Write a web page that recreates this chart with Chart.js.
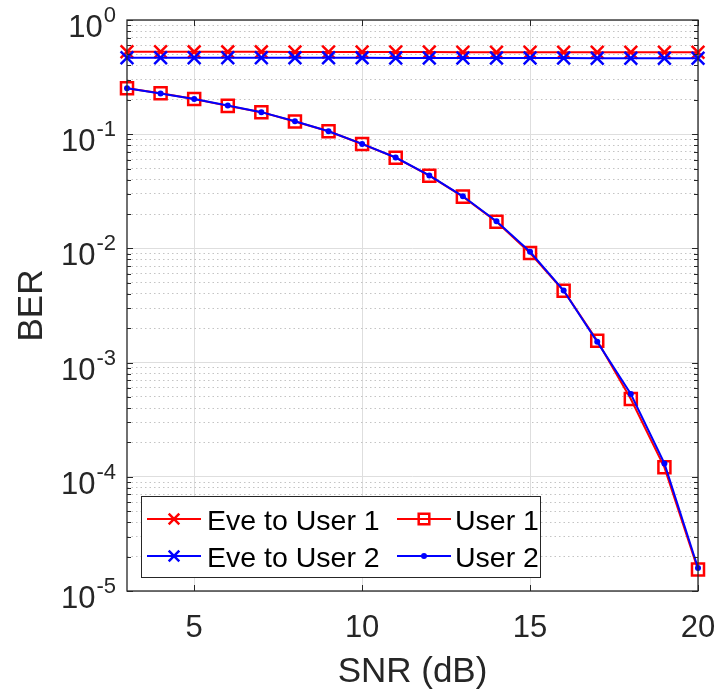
<!DOCTYPE html>
<html>
<head>
<meta charset="utf-8">
<title>BER vs SNR</title>
<script src="https://cdn.jsdelivr.net/npm/chart.js@4.4.0/dist/chart.umd.min.js"></script>
<style>
    html, body { margin: 0; padding: 0; background: #fff; }
    #wrap { width: 720px; height: 693px; position: relative; }
</style>
</head>
<body>
<div id="wrap"><canvas id="ber-chart"></canvas></div>
<script>
const snrDb = [3, 4, 5, 6, 7, 8, 9, 10, 11, 12, 13, 14, 15, 16, 17, 18, 19, 20];

const eveToUser1 = [0.527, 0.527, 0.526, 0.526, 0.526, 0.525, 0.525, 0.524, 0.524, 0.524,
                    0.523, 0.523, 0.523, 0.522, 0.522, 0.522, 0.521, 0.521];
const user1 = [0.252, 0.228, 0.203, 0.177, 0.156, 0.129, 0.106, 0.0820, 0.0623, 0.0433,
               0.0284, 0.0171, 0.00912, 0.00426, 0.00155, 0.000480, 0.000121, 0.0000154];
const eveToUser2 = [0.468, 0.468, 0.467, 0.467, 0.467, 0.466, 0.466, 0.466, 0.465, 0.465,
                    0.465, 0.464, 0.464, 0.464, 0.463, 0.463, 0.462, 0.462];
const user2 = [0.252, 0.227, 0.203, 0.178, 0.156, 0.130, 0.106, 0.0822, 0.0625, 0.0435,
               0.0286, 0.0173, 0.00935, 0.00428, 0.00152, 0.000531, 0.000131, 0.0000159];

const xTicks = [5, 10, 15, 20];
const yDecades = [-5, -4, -3, -2, -1, 0];

const RED = '#ff0000';
const BLUE = '#0000ff';
const AXIS = '#262626';
const FONT = '"Liberation Sans", Arial, Helvetica, sans-serif';

// 1..9 x 10^e for every decade, plus the top decade
const yTickValues = [];
yDecades.forEach(e => {
    if (e === 0) { yTickValues.push(1); return; }
    for (let m = 1; m <= 9; m++) yTickValues.push(m * Math.pow(10, e));
});

function isDecade(v) {
    if (!v) return false;
    const l = Math.log10(v);
    return Math.abs(l - Math.round(l)) < 1e-9;
}

function toPoints(values) {
    return snrDb.map((s, i) => ({ x: s, y: values[i] }));
}

const datasets = [
    {
        label: 'Eve to User 1',
        data: toPoints(eveToUser1),
        borderColor: RED,
        borderWidth: 2,
        pointStyle: 'crossRot',
        pointRadius: 9,
        pointBorderWidth: 2.5,
        pointBorderColor: RED,
        pointBackgroundColor: RED,
        order: 3
    },
    {
        label: 'User 1',
        data: toPoints(user1),
        borderColor: RED,
        borderWidth: 2,
        pointStyle: 'rect',
        pointRadius: 8.5,
        pointBorderWidth: 2.5,
        pointBorderColor: RED,
        pointBackgroundColor: 'rgba(0,0,0,0)',
        order: 2
    },
    {
        label: 'Eve to User 2',
        data: toPoints(eveToUser2),
        borderColor: BLUE,
        borderWidth: 2,
        pointStyle: 'crossRot',
        pointRadius: 9,
        pointBorderWidth: 2.5,
        pointBorderColor: BLUE,
        pointBackgroundColor: BLUE,
        order: 1
    },
    {
        label: 'User 2',
        data: toPoints(user2),
        borderColor: BLUE,
        borderWidth: 2,
        pointStyle: 'circle',
        pointRadius: 3,
        pointBorderWidth: 0,
        pointBorderColor: BLUE,
        pointBackgroundColor: BLUE,
        order: 0
    }
];

// frame, inward ticks, tick labels, axis titles and the boxed legend
const axisDecor = {
    id: 'axisDecor',
    afterDraw(chart) {
        const { ctx, chartArea: a, scales: { x, y } } = chart;
        ctx.save();

        // inward tick marks on all four sides
        ctx.strokeStyle = AXIS;
        ctx.lineWidth = 1;
        ctx.beginPath();
        yTickValues.forEach(v => {
            const py = Math.round(y.getPixelForValue(v)) + 0.5;
            const len = isDecade(v) ? 6 : 4;
            ctx.moveTo(a.left, py); ctx.lineTo(a.left + len, py);
            ctx.moveTo(a.right, py); ctx.lineTo(a.right - len, py);
        });
        xTicks.forEach(v => {
            const px = Math.round(x.getPixelForValue(v)) + 0.5;
            ctx.moveTo(px, a.bottom); ctx.lineTo(px, a.bottom - 6);
            ctx.moveTo(px, a.top); ctx.lineTo(px, a.top + 6);
        });
        ctx.stroke();

        // box
        ctx.lineWidth = 1.3;
        ctx.strokeRect(a.left, a.top, a.right - a.left, a.bottom - a.top);

        // y tick labels as 10 with a raised exponent
        ctx.fillStyle = AXIS;
        ctx.textBaseline = 'alphabetic';
        const labelRight = 116;
        yDecades.forEach(e => {
            const py = y.getPixelForValue(Math.pow(10, e));
            const expText = String(e);
            ctx.font = '22px ' + FONT;
            const expW = ctx.measureText(expText).width;
            ctx.textAlign = 'left';
            ctx.fillText(expText, labelRight - expW, py + 2);
            ctx.font = '31px ' + FONT;
            ctx.textAlign = 'right';
            ctx.fillText('10', labelRight - expW - 1, py + 17);
        });

        // x tick labels
        ctx.font = '31px ' + FONT;
        ctx.textAlign = 'center';
        xTicks.forEach(v => {
            ctx.fillText(String(v), x.getPixelForValue(v), 637);
        });

        // axis titles
        ctx.font = '35px ' + FONT;
        ctx.fillText('SNR (dB)', (a.left + a.right) / 2, 682);
        ctx.save();
        ctx.translate(42, (a.top + a.bottom) / 2);
        ctx.rotate(-Math.PI / 2);
        ctx.fillText('BER', 0, 0);
        ctx.restore();

        // legend: two rows, two columns
        const box = { left: 141, top: 496, right: 540, bottom: 577 };
        ctx.fillStyle = '#ffffff';
        ctx.fillRect(box.left, box.top, box.right - box.left, box.bottom - box.top);
        ctx.strokeStyle = AXIS;
        ctx.lineWidth = 1;
        ctx.strokeRect(box.left + 0.5, box.top + 0.5, box.right - box.left, box.bottom - box.top);

        const rows = [519, 556];
        const cols = [{ x0: 147, x1: 201, tx: 207 }, { x0: 397, x1: 451, tx: 455 }];
        const slots = [[0, 0], [1, 0], [0, 1], [1, 1]]; // [col, row] for each dataset
        ctx.font = '28.5px ' + FONT;
        ctx.textAlign = 'left';
        chart.data.datasets.forEach((ds, i) => {
            const c = cols[slots[i][0]];
            const ry = rows[slots[i][1]];
            ctx.strokeStyle = ds.borderColor;
            ctx.lineWidth = ds.borderWidth;
            ctx.beginPath();
            ctx.moveTo(c.x0, ry);
            ctx.lineTo(c.x1, ry);
            ctx.stroke();

            ctx.fillStyle = ds.pointBackgroundColor;
            ctx.strokeStyle = ds.pointBorderColor;
            ctx.lineWidth = ds.pointBorderWidth;
            Chart.helpers.drawPoint(ctx, {
                pointStyle: ds.pointStyle,
                radius: ds.pointStyle === 'circle' ? 3 : 7.5,
                rotation: 0,
                borderWidth: ds.pointBorderWidth
            }, (c.x0 + c.x1) / 2, ry);

            ctx.fillStyle = '#000000';
            ctx.fillText(ds.label, c.tx, ry + 10.5);
        });

        ctx.restore();
    }
};

const ctx = document.getElementById('ber-chart');
new Chart(ctx, {
    type: 'line',
    data: { datasets: datasets },
    options: {
        responsive: true,
        maintainAspectRatio: false,
        animation: false,
        clip: false,
        layout: {
            padding: { left: 127, right: 22, top: 20, bottom: 102 }
        },
        elements: {
            line: { tension: 0 }
        },
        plugins: {
            legend: { display: false },
            tooltip: { enabled: false }
        },
        scales: {
            x: {
                type: 'linear',
                min: 3,
                max: 20,
                afterBuildTicks: axis => {
                    axis.ticks = xTicks.map(v => ({ value: v }));
                },
                ticks: { display: false },
                grid: { color: '#dedede', lineWidth: 1, drawTicks: false },
                border: { display: false }
            },
            y: {
                type: 'logarithmic',
                min: 1e-5,
                max: 1,
                afterBuildTicks: axis => {
                    axis.ticks = yTickValues.map(v => ({ value: v }));
                },
                ticks: { display: false },
                grid: {
                    color: c => (c.tick && isDecade(c.tick.value)) ? '#dedede' : '#c4c4c4',
                    lineWidth: 1,
                    drawTicks: false
                },
                border: {
                    display: false,
                    dash: c => (c.tick && !isDecade(c.tick.value)) ? [1.5, 3] : []
                }
            }
        }
    },
    plugins: [axisDecor]
});
</script>
</body>
</html>
